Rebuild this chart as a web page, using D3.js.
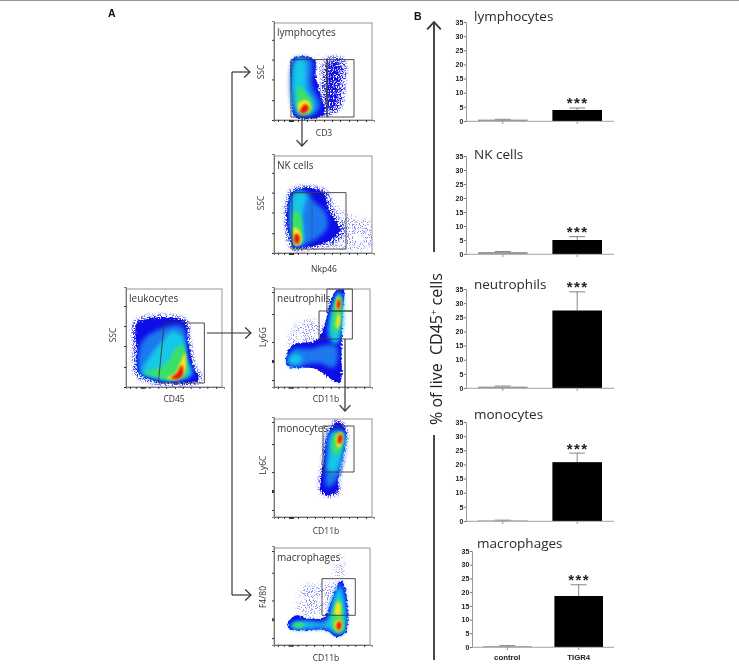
<!DOCTYPE html>
<html>
<head>
<meta charset="utf-8">
<script src="https://cdn.jsdelivr.net/npm/d3@7/dist/d3.min.js"></script>
<style>
html,body{margin:0;padding:0;background:#fff;}
svg{display:block;}
text{fill:#2b2b2b;}
</style>
</head>
<body>
<svg id="chart" width="739" height="668"></svg>
<script>
// ---- Panel B data ----
const barCategories = ["control", "TIGR4"];
const barTicks = [0, 5, 10, 15, 20, 25, 30, 35];
const populationNames = ["lymphocytes", "NK cells", "neutrophils", "monocytes", "macrophages"];
const controlValues = [0.5, 0.7, 0.5, 0.2, 0.3];
const controlErrors = [0.6, 0.9, 0.7, 0.3, 0.5];
const tigr4Values = [3.9, 5.0, 27.4, 20.8, 18.6];
const tigr4Errors = [4.6, 6.2, 34.0, 24.0, 22.7];
const significance = ["***", "***", "***", "***", "***"];

// ---- Panel A data: density outlines in channel units (0-100) ----
const leukocyteDensity = [
  ["speck", [[9,67],[62,68],[66,47],[72,20],[78,10],[74,3],[41,1],[20,5],[9,12],[7,40]]],
  ["blue", [[12,64],[60,65],[63,47],[70,18],[74,10],[71,6],[41,4],[21,9],[13,14],[11,40]]],
  ["mid", [[14,15],[16,45],[35,58],[58,60],[62,30],[68,12],[45,6],[25,9]]],
  ["cyan", [[16,15],[24,30],[36,45],[48,56],[58,50],[62,28],[66,13],[48,7],[28,10]]],
  ["green", [[18,14],[30,18],[42,24],[50,38],[58,42],[62,25],[62,12],[45,7],[30,10]]],
  ["yellow", [[42,9],[50,14],[56,26],[60,34],[61,18],[56,9],[48,7]]],
  ["red", [[46,9],[52,14],[57,22],[58,12],[53,8]]]
];
const lymphocyteDensity = [
  ["sparse", [[41,62],[56,62],[56,8],[48,6],[44,40]]],
  ["speck", [[52,62],[70,62],[71,30],[66,10],[52,5]]],
  ["blue", [[19,62],[40,62],[42,43],[50,13],[50,5],[21,3],[18,27]]],
  ["blueThin", [[56,58],[66,58],[66,33],[62,14],[55,10]]],
  ["mid", [[20,61],[37,61],[38,35],[46,15],[40,6],[22,5]]],
  ["cyan", [[22,60],[31,60],[33,30],[40,18],[38,8],[24,7]]],
  ["green", [[24,35],[30,30],[38,18],[37,8],[26,7]]],
  ["yellow", [[24,17],[33,20],[37,13],[33,7],[26,7]]],
  ["red", [[26,9],[31,16],[35,12],[31,7],[27,7]]]
];
const nkDensity = [
  ["sparse", [[49,62],[72,40],[98,30],[98,8],[55,8]]],
  ["speck", [[16,64],[52,64],[60,43],[72,22],[62,10],[39,4],[17,4]]],
  ["blue", [[18,62],[48,62],[55,43],[66,23],[58,14],[39,7],[19,7]]],
  ["mid", [[20,61],[33,61],[40,52],[52,40],[53,25],[38,12],[22,8]]],
  ["cyan", [[20,60],[32,60],[28,35],[29,10],[21,8]]],
  ["green", [[20,42],[26,40],[27,10],[21,8]]],
  ["yellow", [[20,26],[26,22],[27,10],[21,8]]],
  ["red", [[21,19],[25,18],[25,10],[21,10]]]
];
const neutrophilDensity = [
  ["sparse", [[16,40],[18,58],[40,68],[52,60],[46,42]]],
  ["blue", [[71,98],[70,73],[69,40],[67,4],[58,8],[43,18],[14,21],[13,32],[19,42],[44,47],[51,60],[58,87],[64,97]]],
  ["mid", [[14,27],[21,38],[38,38],[52,42],[64,40],[62,20],[44,24],[20,22]]],
  ["mid", [[14,25],[21,36],[33,31],[29,22],[17,21]]],
  ["cyan", [[15,27],[21,33],[29,29],[26,24],[18,23]]],
  ["cyan", [[56,50],[59,80],[66,95],[70,90],[68,50],[63,43]]],
  ["green", [[60,57],[62,80],[66,92],[69,87],[67,63],[63,53]]],
  ["yellow", [[63,78],[65,90],[68,85],[67,78]]],
  ["yellow", [[63,62],[66,74],[68,68],[65,58]]],
  ["red", [[64,80],[66,88],[68,84],[66,78]]]
];
const monocyteDensity = [
  ["speck", [[63,98],[73,90],[73,72],[66,38],[65,23],[53,20],[45,26],[48,57],[50,78],[57,92]]],
  ["blue", [[64,95],[71,88],[71,73],[64,40],[63,25],[53,22],[47,27],[50,57],[52,77],[58,90]]],
  ["mid", [[55,85],[70,86],[70,68],[62,36],[53,30],[52,55]]],
  ["cyan", [[59,83],[69,83],[69,68],[61,45],[54,47],[56,67]]],
  ["green", [[60,83],[69,84],[68,72],[63,62],[58,67]]],
  ["yellow", [[62,81],[68,84],[68,73],[64,69]]],
  ["red", [[64,74],[65,82],[68,82],[67,74]]]
];
const macrophageDensity = [
  ["sparse", [[25,32],[28,58],[50,62],[60,62],[64,92],[70,90],[70,65],[55,40],[50,32]]],
  ["blue", [[14,22],[23,30],[34,27],[51,28],[58,43],[68,65],[72,60],[73,12],[64,8],[53,15],[16,16]]],
  ["mid", [[16,21],[31,25],[52,25],[60,47],[67,62],[71,56],[72,14],[64,10],[54,16],[18,17]]],
  ["cyan", [[18,21],[31,23],[54,23],[61,45],[66,57],[70,50],[71,15],[64,13],[54,18],[18,18]]],
  ["green", [[59,22],[63,43],[67,47],[70,33],[71,14],[63,13]]],
  ["green", [[21,22],[30,22],[30,18],[21,18]]],
  ["yellow", [[62,31],[65,44],[68,41],[67,29]]],
  ["yellow", [[62,23],[67,26],[70,20],[66,14],[62,17]]],
  ["red", [[64,21],[67,24],[69,20],[66,15],[64,17]]]
];

// gates in the same channel units
const leukocyteGates = [[[39,64],[80,64],[80,4],[33,4]]];
const lymphocyteGates = [[[17,61],[80,61],[80,3],[17,3]], [[53,61],[53,3]]];
const nkGates = [[[18,61],[72,61],[72,4],[18,4]], [[38,61],[38,4]]];
const neutrophilGates = [[[54,98],[80,98],[80,76],[54,76]], [[46,76],[80,76],[80,48],[46,48]]];
const monocyteGates = [[[49,91],[80,91],[80,45],[49,45]]];
const macrophageGates = [[[49,67],[83,67],[83,30],[49,30]]];

const flowNames = ["leukocytes", "lymphocytes", "NK cells", "neutrophils", "monocytes", "macrophages"];
const flowXLabels = ["CD45", "CD3", "Nkp46", "CD11b", "CD11b", "CD11b"];
const flowYLabels = ["SSC", "SSC", "SSC", "Ly6G", "Ly6C", "F4/80"];
const flowDensities = [leukocyteDensity, lymphocyteDensity, nkDensity, neutrophilDensity, monocyteDensity, macrophageDensity];
const flowGates = [leukocyteGates, lymphocyteGates, nkGates, neutrophilGates, monocyteGates, macrophageGates];
const channelTicksX = [4, 10, 15, 16, 17, 18, 19, 24, 33, 41, 50, 58, 66, 75, 83, 92];
const channelTicksYScatter = [0, 20, 41, 61, 81];
const channelTicksYBiex = [7, 25, 26, 27, 45, 73, 95];
const flowTicksY = [channelTicksYScatter, channelTicksYScatter, channelTicksYScatter, channelTicksYBiex, channelTicksYBiex, channelTicksYBiex];

// ---- Layout (separate from data) ----
const flowFrames = [
  {l:126, r:222, t:289, b:387, xl:174, xy:402, yx:116, yy:335, dw:0.9},
  {l:274, r:372, t:23,  b:120, xl:324, xy:136, yx:264, yy:72,  dw:1.5},
  {l:274, r:372, t:156, b:253, xl:324, xy:272, yx:264, yy:203, dw:0.4},
  {l:274, r:370, t:289, b:387, xl:326, xy:402, yx:266, yy:337, dw:0.9},
  {l:274, r:372, t:419, b:517, xl:326, xy:534, yx:266, yy:465, dw:0.9},
  {l:274, r:370, t:548, b:645, xl:326, xy:661, yx:266, yy:597, dw:0.9}
];
const barFrames = [
  {ax:466, t:22,  b:121, c0:478, c1:528, d0:553, d1:602, tx:474, ty:21},
  {ax:466, t:156, b:254, c0:478, c1:528, d0:553, d1:602, tx:474, ty:159},
  {ax:466, t:289, b:388, c0:478, c1:528, d0:553, d1:602, tx:474, ty:289},
  {ax:466, t:422, b:521, c0:478, c1:528, d0:553, d1:602, tx:474, ty:419},
  {ax:472, t:551, b:647, c0:483, c1:532, d0:555, d1:603, tx:477, ty:548}
];
const densityColors = {sparse:"#7f84ee", speck:"#1a1fe8", blue:"#0b0fe6", blueThin:"#0b0fe6", mid:"#1a78ee", cyan:"#17c8e8", green:"#38e06a", yellow:"#f3e422", red:"#e5140f"};
const densityBlur = {mid:2.2, cyan:2.2, green:1.8, yellow:1.3, red:0.9};

const svg = d3.select("#chart");
const defs = svg.append("defs");
Object.entries(densityBlur).forEach(([k, v]) => {
  defs.append("filter").attr("id", "blur-" + k)
    .attr("x", "-40%").attr("y", "-40%").attr("width", "180%").attr("height", "180%")
    .append("feGaussianBlur").attr("stdDeviation", v);
});
// speckle texture for the sparse outer events
function grainFilter(id, freq, gain, offset, blurDev) {
  const fl = defs.append("filter").attr("id", id).attr("x", "-20%").attr("y", "-20%").attr("width", "140%").attr("height", "140%");
  fl.append("feTurbulence").attr("type", "fractalNoise").attr("baseFrequency", freq).attr("numOctaves", 2).attr("seed", 4).attr("result", "n");
  fl.append("feColorMatrix").attr("in", "n").attr("type", "matrix")
    .attr("values", `0 0 0 0 0  0 0 0 0 0  0 0 0 0 0  ${gain} 0 0 0 ${offset}`).attr("result", "m");
  fl.append("feGaussianBlur").attr("in", "SourceGraphic").attr("stdDeviation", blurDev).attr("result", "b");
  fl.append("feComposite").attr("in", "b").attr("in2", "m").attr("operator", "in");
}
grainFilter("blur-speck", 0.75, 9, -4.3, 1.6);
grainFilter("blur-blueThin", 0.75, 7, -2.4, 1.6);
grainFilter("blur-sparse", 0.95, 9, -5.0, 2.4);
const rough = defs.append("filter").attr("id", "blur-blue").attr("x", "-20%").attr("y", "-20%").attr("width", "140%").attr("height", "140%");
rough.append("feTurbulence").attr("type", "fractalNoise").attr("baseFrequency", 0.5).attr("numOctaves", 2).attr("seed", 7).attr("result", "n");
rough.append("feDisplacementMap").attr("in", "SourceGraphic").attr("in2", "n").attr("scale", 5)
  .attr("xChannelSelector", "R").attr("yChannelSelector", "G").attr("result", "d");
rough.append("feGaussianBlur").attr("in", "d").attr("stdDeviation", 0.5);

const soft = defs.append("filter").attr("id", "soft");
soft.append("feGaussianBlur").attr("stdDeviation", 0.35);

const root = svg.append("g");
const FLOW_FONT = "'Open Sans','Noto Sans',sans-serif";

root.append("line").attr("x1", 0).attr("x2", 739).attr("y1", 0.5).attr("y2", 0.5)
  .attr("stroke", "#999").attr("stroke-width", 1);

root.append("text").attr("x", 108).attr("y", 17).attr("font-family", "'Liberation Sans',sans-serif")
  .attr("font-weight", 700).attr("font-size", 10.5).style("fill", "#111").text("A");
root.append("text").attr("x", 414).attr("y", 20).attr("font-family", "'Liberation Sans',sans-serif")
  .attr("font-weight", 700).attr("font-size", 10.5).style("fill", "#111").text("B");

// ---- Flow panels ----
flowNames.forEach((name, i) => {
  const f = flowFrames[i];
  const x = d3.scaleLinear().domain([0, 100]).range([f.l, f.l + 100 * (f.r - f.l) / 98]);
  const y = d3.scaleLinear().domain([0, 100]).range([f.b, f.b - 100 * (f.b - f.t) / 98]);
  const g = root.append("g");
  const clipId = "clip-" + i;
  defs.append("clipPath").attr("id", clipId).append("rect")
    .attr("x", f.l).attr("y", f.t).attr("width", f.r - f.l).attr("height", f.b - f.t);
  const closed = d3.line().x(d => x(d[0])).y(d => y(d[1])).curve(d3.curveCatmullRomClosed.alpha(0.5));
  const open = d3.line().x(d => x(d[0])).y(d => y(d[1]));

  const dens = g.append("g").attr("clip-path", `url(#${clipId})`);
  dens.selectAll("path").data(flowDensities[i]).join("path")
    .attr("d", d => closed(d[1]))
    .attr("fill", d => densityColors[d[0]])
    .attr("filter", d => `url(#blur-${d[0]})`);

  g.append("rect").attr("x", f.l).attr("y", f.t).attr("width", f.r - f.l).attr("height", f.b - f.t)
    .attr("fill", "none").attr("stroke", "#8a8a8a").attr("stroke-width", 0.9);

  const axB = g.append("g").attr("transform", `translate(0,${f.b})`)
    .call(d3.axisBottom(x).tickValues(channelTicksX).tickSize(2).tickFormat(""));
  axB.select(".domain").attr("stroke", "#777");
  axB.selectAll("line").attr("stroke", "#333");
  const axL = g.append("g").attr("transform", `translate(${f.l},0)`)
    .call(d3.axisLeft(y).tickValues(flowTicksY[i]).tickSize(2).tickFormat(""));
  axL.select(".domain").attr("stroke", "#777");
  axL.selectAll("line").attr("stroke", "#333");

  g.selectAll("path.gate").data(flowGates[i]).join("path").attr("class", "gate")
    .attr("d", d => open(d) + (d.length > 2 ? "Z" : ""))
    .attr("fill", "none").attr("stroke", "#3a3a3a")
    .attr("stroke-width", d => d.length > 2 ? 0.9 : f.dw);

  g.append("text").attr("x", f.l + 3).attr("y", f.t + 13).attr("font-family", FLOW_FONT)
    .attr("font-size", 10).style("fill", "#333").text(name);
  g.append("text").attr("x", f.xl).attr("y", f.xy).attr("text-anchor", "middle")
    .attr("font-family", FLOW_FONT).attr("font-size", 8.5).style("fill", "#333").text(flowXLabels[i]);
  g.append("text").attr("transform", `translate(${f.yx},${f.yy}) rotate(-90)`).attr("text-anchor", "middle")
    .attr("font-family", FLOW_FONT).attr("font-size", 8.5).style("fill", "#333").text(flowYLabels[i]);
});

// ---- Connecting arrows of panel A ----
const arrowStroke = "#333";
function arrow(parent, x1, y1, x2, y2, head, width) {
  parent.append("line").attr("x1", x1).attr("y1", y1).attr("x2", x2).attr("y2", y2)
    .attr("stroke", arrowStroke).attr("stroke-width", width);
  const a = Math.atan2(y2 - y1, x2 - x1);
  const p = t => [x2 - head * Math.cos(a + t), y2 - head * Math.sin(a + t)];
  parent.append("path").attr("d", d3.line()([p(0.75), [x2, y2], p(-0.75)]))
    .attr("fill", "none").attr("stroke", arrowStroke).attr("stroke-width", width);
}
const arrows = root.append("g");
arrows.append("line").attr("x1", 232).attr("x2", 232).attr("y1", 72).attr("y2", 595)
  .attr("stroke", arrowStroke).attr("stroke-width", 1.2);
arrow(arrows, 232, 72, 250, 72, 8, 1.2);
arrow(arrows, 207, 333, 251, 333, 8, 1.2);
arrow(arrows, 232, 595, 251, 595, 8, 1.2);
arrow(arrows, 302, 118, 302, 146, 8, 1.2);
arrow(arrows, 345, 339, 345, 411, 8, 1.2);

// ---- Big y-axis annotation ----
arrow(arrows, 434, 252, 434, 22, 10, 1.8);
arrows.append("line").attr("x1", 434).attr("x2", 434).attr("y1", 435).attr("y2", 660)
  .attr("stroke", arrowStroke).attr("stroke-width", 1.8);
const bigLabel = root.append("text").attr("transform", "translate(442,349) rotate(-90)")
  .attr("text-anchor", "middle").attr("font-family", FLOW_FONT).attr("font-size", 16).style("fill", "#222");
bigLabel.append("tspan").text("% of live\u00a0\u00a0CD45");
bigLabel.append("tspan").attr("dy", -5).attr("font-size", 9.5).text("+");
bigLabel.append("tspan").attr("dy", 5).text(" cells");

// ---- Bar panels ----
populationNames.forEach((name, i) => {
  const f = barFrames[i];
  const y = d3.scaleLinear().domain([0, 35]).range([f.b, f.t]);
  const x = d3.scaleBand().domain(barCategories).range([f.c0, f.d1])
    .paddingInner((f.d0 - f.c1) / (f.d0 - f.c0)).paddingOuter(0);
  const g = root.append("g");
  const axis = g.append("g").attr("transform", `translate(${f.ax},0)`)
    .call(d3.axisLeft(y).tickValues(barTicks).tickSize(2).tickPadding(0.6));
  axis.select(".domain").attr("stroke", "#999");
  axis.selectAll("line").attr("stroke", "#777");
  axis.selectAll("text").attr("font-family", "'Liberation Sans',sans-serif").attr("font-weight", 700)
    .attr("font-size", 7).style("fill", "#222");

  const vals = [controlValues[i], tigr4Values[i]];
  const errs = [controlErrors[i], tigr4Errors[i]];
  const cols = ["#9a9a9a", "#000"];
  barCategories.forEach((c, k) => {
    const cx = x(c) + x.bandwidth() / 2;
    g.append("line").attr("x1", cx).attr("x2", cx).attr("y1", y(vals[k])).attr("y2", y(errs[k]))
      .attr("stroke", "#666").attr("stroke-width", 0.8);
    g.append("line").attr("x1", cx - 8).attr("x2", cx + 8).attr("y1", y(errs[k])).attr("y2", y(errs[k]))
      .attr("stroke", "#666").attr("stroke-width", 0.8);
    g.append("rect").attr("x", x(c)).attr("width", x.bandwidth())
      .attr("y", y(vals[k])).attr("height", y(0) - y(vals[k])).attr("fill", cols[k]);
    g.append("line").attr("x1", cx).attr("x2", cx).attr("y1", f.b).attr("y2", f.b + 3)
      .attr("stroke", "#777").attr("stroke-width", 0.8);
  });
  g.append("line").attr("x1", f.ax).attr("x2", 614).attr("y1", f.b + 0.3).attr("y2", f.b + 0.3)
    .attr("stroke", "#999").attr("stroke-width", 0.9);

  const tc = x(barCategories[1]) + x.bandwidth() / 2;
  g.append("text").attr("x", tc + 0.5).attr("y", y(tigr4Errors[i]) + 0.5).attr("text-anchor", "middle")
    .attr("font-family", "'Liberation Sans',sans-serif").attr("font-weight", 700)
    .attr("font-size", 15).attr("letter-spacing", 1.4).style("fill", "#222").text(significance[i]);
  g.append("text").attr("x", f.tx).attr("y", f.ty).attr("font-family", FLOW_FONT)
    .attr("font-size", 13.5).style("fill", "#2a2a2a").text(name);

  if (i === populationNames.length - 1) {
    barCategories.forEach(c => {
      g.append("text").attr("x", x(c) + x.bandwidth() / 2).attr("y", 660).attr("text-anchor", "middle")
        .attr("font-family", "'Liberation Sans',sans-serif").attr("font-weight", 700)
        .attr("font-size", 7.8).style("fill", "#222").text(c);
    });
  }
});
root.attr("filter", "url(#soft)");
</script>
</body>
</html>
